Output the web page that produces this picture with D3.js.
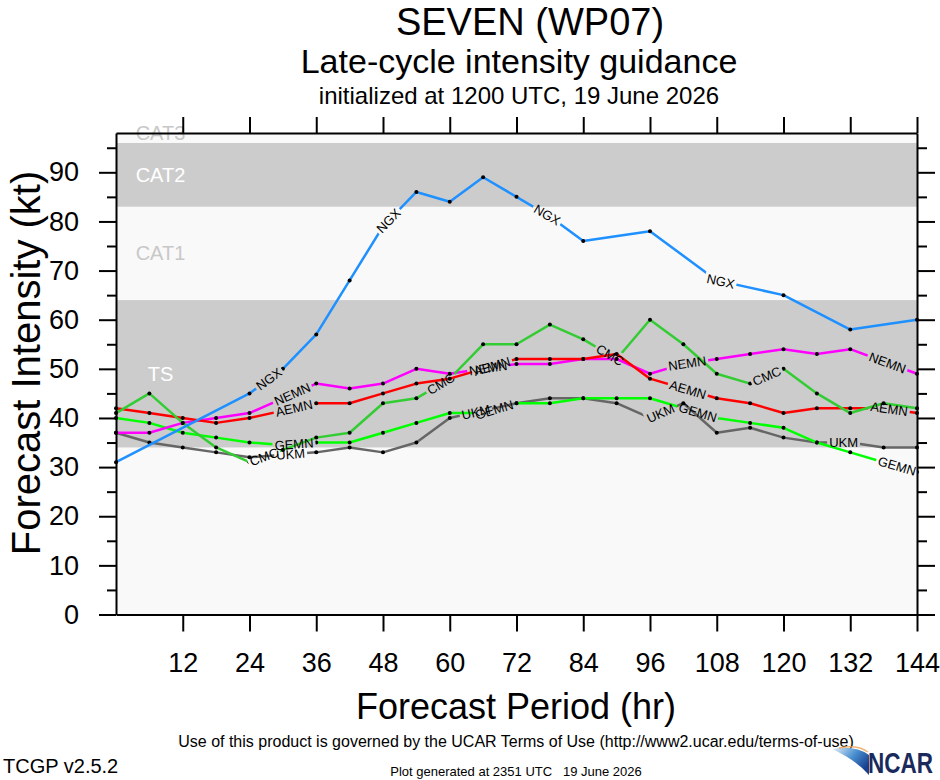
<!DOCTYPE html>
<head>
<meta charset="utf-8">

<!-- load the d3.js library -->
<script src="https://cdn.jsdelivr.net/npm/d3@7/dist/d3.min.js"></script>

<style> /* set the CSS */

body { margin: 0; background: #fff; }

svg text { font-family: "Liberation Sans", Arial, Helvetica, sans-serif; fill: #000; }

.axis path,
.axis line {
    fill: none;
    stroke: #000;
    stroke-width: 2;
}

.axis text {
    font-family: "Liberation Sans", Arial, sans-serif;
    font-size: 27px;
}

.model-line {
    fill: none;
    stroke-width: 2.5px;
    stroke-linejoin: round;
}

.model-label { font-size: 13px; }

</style>
<body>

  <div id="chart"></div>

  <script>

  // forecast hours, every 6 h
  var hours = [0, 6, 12, 18, 24, 30, 36, 42, 48, 54, 60, 66, 72, 78, 84, 90, 96, 102, 108, 114, 120, 126, 132, 138, 144];

  // models, in drawing order
  var modelNames = ["UKM", "GEMN", "NEMN", "AEMN", "CMC", "NGX"];

  // forecast intensity (kt) per hour, null = no point
  var ukm  = [37, 35, 34, 33, 32, 32.5, 33, 34, 33, 35, 40, 41.5, 43, 44, 44, 43, 40, 43, 37, 38, 36, 35, 35, 34, 34];
  var gemn = [40, 39, 37, 36, 35, 34.5, 35, 35, 37, 39, 41, 41, 43, 43, 44, 44, 44, 42, 40, 39, 38, 35, 33, 31, 29];
  var nemn = [37, 37, 39, 40, 41, 44, 47, 46, 47, 50, 49, 50, 51, 51, 52, 52, 49, 51, 52, 53, 54, 53, 54, 51.5, 49];
  var aemn = [42, 41, 40, 39, 40, 41.5, 43, 43, 45, 47, 48, 50, 52, 52, 52, 53, 48, 46, 44, 43, 41, 42, 42, 42, 41];
  var cmc  = [41, 45, 39, 34, 31, 33.5, 36, 37, 43, 44, 48, 55, 55, 59, 56, 52, 60, 55, 49, 47, 50, 45, 41, 43, 42];
  var ngx  = [31, null, null, null, 45, 50, 57, 68, 79, 86, 84, 89, 85, 81, 76, null, 78, null, 68, null, 65, null, 58, null, 60];

  // hour at which each model name is written along its line
  var ukmLabels  = [31.4, 64.7, 97.9, 130.8];
  var gemnLabels = [32, 68, 104.6, 140.4];
  var nemnLabels = [31.7, 66.9, 102.7, 138.7];
  var aemnLabels = [32, 67.6, 102.8, 139];
  var cmcLabels  = [26.6, 58.4, 88.8, 117];
  var ngxLabels  = [27.5, 49, 77.5, 108.7];

  // Saffir-Simpson bands (kt)
  var bandNames = ["TS", "CAT1", "CAT2", "CAT3"];
  var bandLow   = [34, 64, 83, 96];
  var bandHigh  = [64, 83, 96, 113];

  // axis ticks
  var xTicks = [12, 24, 36, 48, 60, 72, 84, 96, 108, 120, 132, 144];
  var yTicks = [0, 10, 20, 30, 40, 50, 60, 70, 80, 90];
  var yMinorTicks = [5, 15, 25, 35, 45, 55, 65, 75, 85, 95];

  var series = [
      {name: "UKM",  values: ukm,  labels: ukmLabels},
      {name: "GEMN", values: gemn, labels: gemnLabels},
      {name: "NEMN", values: nemn, labels: nemnLabels},
      {name: "AEMN", values: aemn, labels: aemnLabels},
      {name: "CMC",  values: cmc,  labels: cmcLabels},
      {name: "NGX",  values: ngx,  labels: ngxLabels}
  ];

  var colour = d3.scaleOrdinal()
      .domain(modelNames)
      .range(["#666666", "#00ff00", "#ff00ff", "#ff0000", "#33cc33", "#1e90ff"]);

  // set the dimensions and margins of the graph
  var margin = {top: 133, right: 23, bottom: 165.5, left: 116},
      width = 940 - margin.left - margin.right,
      height = 780 - margin.top - margin.bottom;

  // set the ranges
  var x = d3.scaleLinear().domain([0, 144]).range([0, width]);
  var y = d3.scaleLinear().domain([0, 98]).range([height, 0]);

  var root = d3.select("#chart").append("svg")
      .attr("width", 940)
      .attr("height", 780);

  var defs = root.append("defs");

  var svg = root.append("g")
      .attr("transform", "translate(" + margin.left + "," + margin.top + ")");

  // plot background and intensity bands
  svg.append("rect")
      .attr("width", width)
      .attr("height", height)
      .attr("fill", "#f9f9f9");

  svg.selectAll(".band")
      .data(bandNames)
    .enter().append("rect")
      .attr("class", "band")
      .attr("x", 0)
      .attr("width", width)
      .attr("y", function(d, i) { return y(Math.min(bandHigh[i], 98)); })
      .attr("height", function(d, i) { return y(bandLow[i]) - y(Math.min(bandHigh[i], 98)); })
      .attr("fill", function(d, i) { return i % 2 === 0 ? "#cccccc" : "#f9f9f9"; });

  svg.selectAll(".band-label")
      .data(bandNames)
    .enter().append("text")
      .attr("class", "band-label")
      .attr("x", x(8))
      .attr("y", function(d, i) { return y(Math.min((bandLow[i] + bandHigh[i]) / 2, 98)); })
      .attr("dy", "0.35em")
      .style("text-anchor", "middle")
      .style("font-size", "20px")
      .style("fill", function(d, i) { return i % 2 === 0 ? "#ffffff" : "#c8c8c8"; })
      .text(function(d) { return d; });

  // find position and angle on a model line at hour h
  function placeOnLine(pts, h) {
      for (var i = 0; i < pts.length - 1; i++) {
          var a = pts[i], b = pts[i + 1];
          if (h >= a.h && h <= b.h) {
              var t = (h - a.h) / (b.h - a.h);
              return {
                  x: x(h),
                  y: y(a.v + t * (b.v - a.v)),
                  angle: Math.atan2(y(b.v) - y(a.v), x(b.h) - x(a.h)) * 180 / Math.PI
              };
          }
      }
      return null;
  }

  var lineLayer = svg.append("g");
  var labelLayer = svg.append("g");

  var modelLine = d3.line()
      .x(function(d) { return x(d.h); })
      .y(function(d) { return y(d.v); });

  series.forEach(function(s) {
      var pts = [];
      s.values.forEach(function(v, i) {
          if (v !== null) pts.push({h: hours[i], v: v});
      });

      // mask that cuts the line where its name is written
      var mask = defs.append("mask")
          .attr("id", "gap-" + s.name)
          .attr("maskUnits", "userSpaceOnUse")
          .attr("x", -30).attr("y", -30)
          .attr("width", width + 60).attr("height", height + 60);
      mask.append("rect")
          .attr("x", -30).attr("y", -30)
          .attr("width", width + 60).attr("height", height + 60)
          .attr("fill", "#fff");

      s.labels.forEach(function(h) {
          var p = placeOnLine(pts, h);
          if (!p) return;
          var tr = "translate(" + p.x + "," + p.y + ") rotate(" + p.angle + ")";
          var t = labelLayer.append("text")
              .attr("class", "model-label")
              .attr("transform", tr)
              .attr("dy", "0.35em")
              .style("text-anchor", "middle")
              .text(s.name);
          var w = t.node().getComputedTextLength();
          mask.append("rect")
              .attr("x", -w / 2 - 2).attr("y", -8)
              .attr("width", w + 4).attr("height", 16)
              .attr("transform", tr)
              .attr("fill", "#000");
      });

      var g = lineLayer.append("g")
          .attr("mask", "url(#gap-" + s.name + ")");

      g.append("path")
          .datum(pts)
          .attr("class", "model-line")
          .style("stroke", colour(s.name))
          .attr("d", modelLine);

      g.selectAll("circle")
          .data(pts)
        .enter().append("circle")
          .attr("cx", function(d) { return x(d.h); })
          .attr("cy", function(d) { return y(d.v); })
          .attr("r", 2)
          .attr("fill", "#000");
  });

  // axes: left (labelled), right, top, bottom (labelled)
  svg.append("g")
      .attr("class", "axis")
      .call(d3.axisLeft(y).tickValues(yTicks).tickSize(17).tickSizeOuter(0).tickPadding(20));

  svg.append("g")
      .attr("class", "axis minor")
      .call(d3.axisLeft(y).tickValues(yMinorTicks).tickSize(9).tickFormat(""))
      .select(".domain").remove();

  svg.append("g")
      .attr("class", "axis")
      .attr("transform", "translate(" + width + ",0)")
      .call(d3.axisRight(y).tickValues(yTicks).tickSize(18).tickSizeOuter(0).tickFormat(""));

  svg.append("g")
      .attr("class", "axis minor")
      .attr("transform", "translate(" + width + ",0)")
      .call(d3.axisRight(y).tickValues(yMinorTicks).tickSize(10).tickFormat(""))
      .select(".domain").remove();

  svg.append("g")
      .attr("class", "axis")
      .call(d3.axisTop(x).tickValues(xTicks).tickSize(16).tickSizeOuter(0).tickFormat(""));

  svg.append("g")
      .attr("class", "axis")
      .attr("transform", "translate(0," + height + ")")
      .call(d3.axisBottom(x).tickValues(xTicks).tickSize(17).tickSizeOuter(0).tickPadding(21));

  // axis titles
  root.append("text")
      .attr("transform", "translate(26,363) rotate(-90)")
      .attr("dy", "0.35em")
      .style("text-anchor", "middle")
      .style("font-size", "40px")
      .text("Forecast Intensity (kt)");

  root.append("text")
      .attr("x", 516)
      .attr("y", 719)
      .style("text-anchor", "middle")
      .style("font-size", "36px")
      .text("Forecast Period (hr)");

  // titles
  root.append("text")
      .attr("x", 530)
      .attr("y", 35)
      .style("text-anchor", "middle")
      .style("font-size", "38px")
      .text("SEVEN (WP07)");

  root.append("text")
      .attr("x", 519)
      .attr("y", 73)
      .style("text-anchor", "middle")
      .style("font-size", "34px")
      .text("Late-cycle intensity guidance");

  root.append("text")
      .attr("x", 519)
      .attr("y", 104)
      .style("text-anchor", "middle")
      .style("font-size", "24px")
      .text("initialized at 1200 UTC, 19 June 2026");

  // footer
  root.append("text")
      .attr("x", 516)
      .attr("y", 747)
      .style("text-anchor", "middle")
      .style("font-size", "16px")
      .text("Use of this product is governed by the UCAR Terms of Use (http://www2.ucar.edu/terms-of-use)");

  root.append("text")
      .attr("x", 3)
      .attr("y", 773)
      .style("font-size", "20px")
      .text("TCGP v2.5.2");

  root.append("text")
      .attr("x", 516)
      .attr("y", 776)
      .style("text-anchor", "middle")
      .style("font-size", "13px")
      .style("white-space", "pre")
      .text("Plot generated at 2351 UTC   19 June 2026");

  // NCAR logo
  var grad = defs.append("linearGradient")
      .attr("id", "swoosh")
      .attr("x1", "0%").attr("y1", "0%")
      .attr("x2", "100%").attr("y2", "60%");
  grad.append("stop").attr("offset", "0%").attr("stop-color", "#e8f3fb");
  grad.append("stop").attr("offset", "55%").attr("stop-color", "#4a90d0");
  grad.append("stop").attr("offset", "100%").attr("stop-color", "#173f8f");

  root.append("path")
      .attr("d", "M832,749 Q855,745 869,755 L869,775 Q856,760 832,749 Z")
      .attr("fill", "url(#swoosh)");
  root.append("path")
      .attr("d", "M839,748 Q857,744 868,752")
      .attr("fill", "none")
      .attr("stroke", "#f0a050")
      .attr("stroke-width", 1.5)
      .attr("opacity", 0.8);

  root.append("text")
      .attr("transform", "translate(868,773) scale(1,1.3)")
      .style("font-size", "22.5px")
      .style("font-weight", "bold")
      .style("fill", "#1b2a5c")
      .text("NCAR");

  </script>
</body>
